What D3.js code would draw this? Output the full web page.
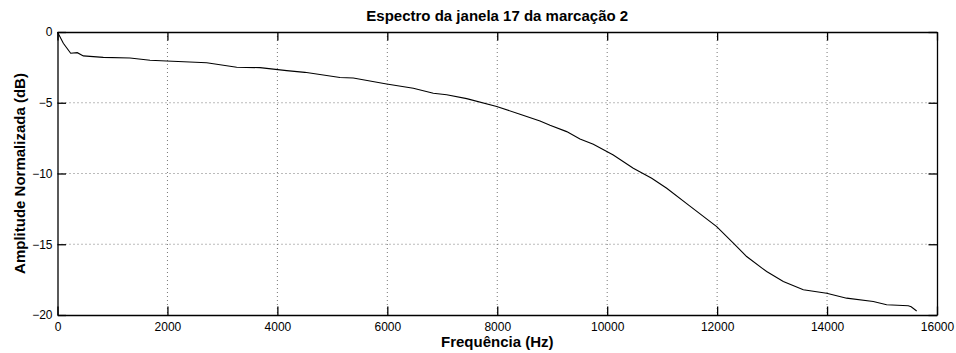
<!DOCTYPE html>
<html>
<head>
<meta charset="utf-8">
<style>
    body { margin: 0; background: #fff; }
    svg { font-family: 'Liberation Sans', Arial, sans-serif; }
</style>
</head>
<body>
<svg width="956" height="353"></svg>
<script src="https://d3js.org/d3.v7.min.js"></script>
<script>
    // spectrum
    let freqs = [0, 106, 240, 360, 470, 833, 1319, 1683, 1986, 2714, 3260, 3684, 4170, 4500,
        5139, 5381, 5988, 6473, 6837, 7080, 7444, 7990, 8414, 8778, 8960, 9263, 9505, 9748,
        10111, 10475, 10810, 11083, 11476, 11992, 12295, 12537, 12901, 13204, 13568, 13993,
        14356, 14841, 15084, 15478, 15530, 15630]
    let amps = [0, -0.80, -1.50, -1.46, -1.69, -1.79, -1.84, -2.00, -2.05, -2.17, -2.49, -2.52, -2.73, -2.85,
        -3.22, -3.25, -3.67, -3.98, -4.33, -4.43, -4.71, -5.27, -5.81, -6.29, -6.59, -7.04, -7.56, -7.93,
        -8.69, -9.63, -10.33, -11.04, -12.22, -13.75, -14.92, -15.87, -16.93, -17.63, -18.22, -18.46,
        -18.81, -19.05, -19.28, -19.35, -19.42, -19.72]
    let xTicks = [0, 2000, 4000, 6000, 8000, 10000, 12000, 14000, 16000]
    let yTicks = [-20, -15, -10, -5, 0]

    let svg = d3.select("svg")
    let margin = { top: 32, right: 19, bottom: 38, left: 57.5 }
    let width = 956 - margin.left - margin.right
    let height = 353 - margin.top - margin.bottom

    let x = d3.scaleLinear().domain([0, 16000]).range([0, width])
    let y = d3.scaleLinear().domain([-20, 0]).range([height, 0])

    let g = svg.append("g").attr("transform", `translate(${margin.left},${margin.top})`)

    // grid
    g.append("g").selectAll("line").data(xTicks.slice(1, -1)).join("line")
        .attr("x1", d => x(d)).attr("x2", d => x(d)).attr("y1", 0).attr("y2", height)
        .attr("stroke", "#777").attr("stroke-width", 1).attr("stroke-dasharray", "1,3")
    g.append("g").selectAll("line").data(yTicks.slice(1, -1)).join("line")
        .attr("y1", d => y(d)).attr("y2", d => y(d)).attr("x1", 0).attr("x2", width)
        .attr("stroke", "#777").attr("stroke-width", 1).attr("stroke-dasharray", "1,3")

    // axes, ticks inside on all sides
    let tick = 8.5
    let xb = g.append("g").attr("transform", `translate(0,${height})`)
        .call(d3.axisBottom(x).tickValues(xTicks).tickSizeInner(-tick).tickSizeOuter(0).tickPadding(7)
            .tickFormat(d3.format("d")))
    let xt = g.append("g")
        .call(d3.axisTop(x).tickValues(xTicks).tickSizeInner(-tick).tickSizeOuter(0).tickFormat(""))
    let yl = g.append("g")
        .call(d3.axisLeft(y).tickValues(yTicks).tickSizeInner(-tick).tickSizeOuter(0).tickPadding(5)
            .tickFormat(d => d < 0 ? "\u2212" + Math.abs(d) : d))
    let yr = g.append("g").attr("transform", `translate(${width},0)`)
        .call(d3.axisRight(y).tickValues(yTicks).tickSizeInner(-tick).tickSizeOuter(0).tickFormat(""))

    for (let a of [xb, xt, yl, yr]) {
        a.select(".domain").attr("stroke", "#000").attr("stroke-width", 1.3)
        a.selectAll(".tick line").attr("stroke", "#000").attr("stroke-width", 1.3)
        a.selectAll(".tick text").attr("fill", "#000").style("font-size", "12px")
            .style("font-family", "'Liberation Sans', Arial, sans-serif")
    }

    // curve
    let line = d3.line().x(d => x(d[0])).y(d => y(d[1]))
    g.append("path")
        .datum(freqs.map((f, i) => [f, amps[i]]))
        .attr("d", line)
        .attr("fill", "none")
        .attr("stroke", "#000")
        .attr("stroke-width", 1.1)

    // labels
    svg.append("text")
        .attr("x", margin.left + width / 2).attr("y", 21)
        .attr("text-anchor", "middle").attr("font-weight", "bold").attr("font-size", 15)
        .text("Espectro da janela 17 da marcação 2")
    svg.append("text")
        .attr("x", margin.left + width / 2).attr("y", 347)
        .attr("text-anchor", "middle").attr("font-weight", "bold").attr("font-size", 15)
        .text("Frequência (Hz)")
    svg.append("text")
        .attr("transform", `translate(25,${margin.top + height / 2}) rotate(-90)`)
        .attr("text-anchor", "middle").attr("font-weight", "bold").attr("font-size", 15)
        .text("Amplitude Normalizada (dB)")
</script>
</body>
</html>
